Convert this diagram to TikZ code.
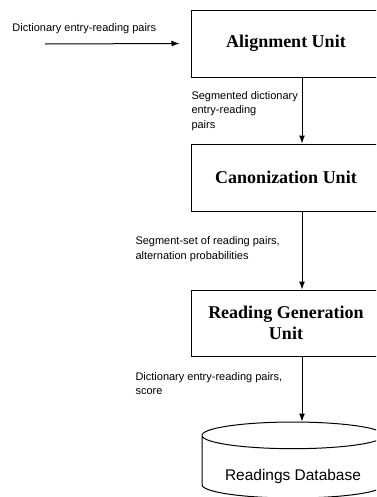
\documentclass[tikz,border=0pt]{standalone}
\usepackage{fontspec}
\setmainfont{Liberation Serif}
\setsansfont{Liberation Sans}
\usetikzlibrary{shapes.geometric,arrows.meta}

\tikzset{every picture/.style={line width=0.75pt}}
\tikzset{
  unit/.style={draw, rectangle, minimum width=142.5pt, minimum height=50.25pt, align=center,
    font=\fontsize{13.5}{15.5}\selectfont\bfseries},
  flowtext/.style={inner sep=0pt, align=left, anchor=west,
    font=\sffamily\fontsize{8.25}{10.8}\selectfont},
  flow/.style={-{Latex[length=6pt,width=4.5pt]}},
  store/.style={draw, cylinder, shape border rotate=90, aspect=3,
    minimum width=136.5pt, minimum height=57pt}
}

\begin{document}
\begin{tikzpicture}[x=0.75pt,y=0.75pt,yscale=-1,xscale=1]
\useasboundingbox (0,0) rectangle (376,497);
\clip (0,0) rectangle (376,497);

% Units
\node[unit] (align) at (286,43.5) {Alignment Unit};
\node[unit] (canon) at (286,177.5) {Canonization Unit};
\node[unit, minimum height=49.5pt] (rgu) at (286,323) {Reading Generation\\Unit};
% Database
\node[store, label={[font=\sffamily\fontsize{11.6}{13}\selectfont, yshift=-5.25pt]center:Readings Database}] (db) at (293,469) {};

% Text Node
\node[flowtext] (inlabel) at (12,29) {Dictionary entry-reading pairs};
\node[flowtext] (seglabel) at (191,111) {Segmented dictionary\\entry-reading\\pairs};
\node[flowtext] (canlabel) at (135,249) {Segment-set of reading pairs,\\alternation probabilities};
\node[flowtext] (rgulabel) at (135,383.5) {Dictionary entry-reading pairs,\\score};

% Connection
\coordinate (in) at (45,44);
\draw[flow] (in) -- ([xshift=-8.25pt]align.west);
\draw[flow] ([xshift=12pt]align.south) -- ([xshift=12pt]canon.north);
\draw[flow] ([xshift=12pt]canon.south) -- ([xshift=12pt]rgu.north);
\draw[flow] ([xshift=12pt]rgu.south) -- ([xshift=12pt]rgu.south |- db.north);

\end{tikzpicture}
\end{document}
